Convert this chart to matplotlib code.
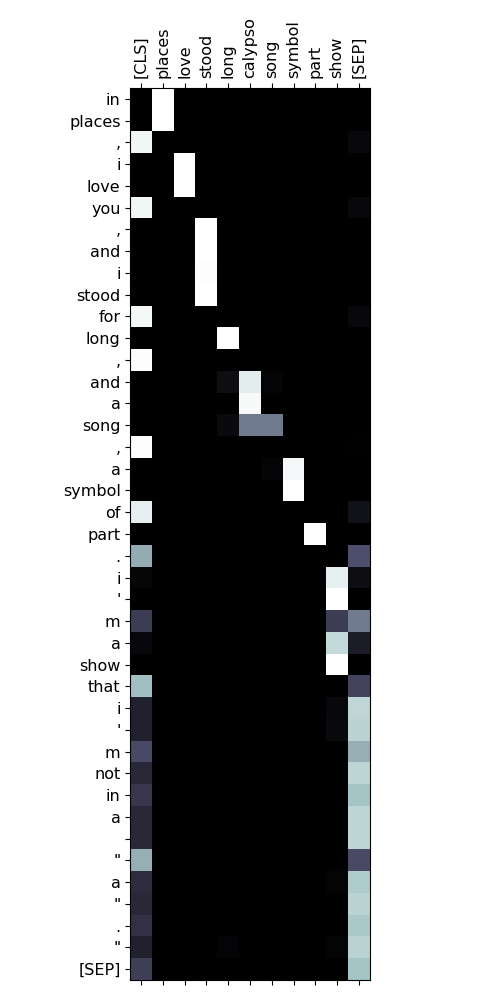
import numpy as np
import matplotlib
matplotlib.use("Agg")
import matplotlib.pyplot as plt

# columns (key tokens) and rows (query tokens)
col_tokens = ["[CLS]", "places", "love", "stood", "long", "calypso",
              "song", "symbol", "part", "show", "[SEP]"]
row_tokens = ["in", "places", ",", "i", "love", "you", ",", "and", "i", "stood",
              "for", "long", ",", "and", "a", "song", ",", "a", "symbol", "of",
              "part", ".", "i", "'", "m", "a", "show", "that", "i", "'",
              "m", "not", "in", "a", "", '"', "a", '"', ".", '"', "[SEP]"]

# attention weights, one list per row
# order: [CLS] places love stood long calypso song symbol part show [SEP]
attn = [
    [0, 1, 0, 0, 0, 0, 0, 0, 0, 0, 0],
    [0, 1, 0, 0, 0, 0, 0, 0, 0, 0, 0],
    [0.96, 0, 0, 0, 0, 0, 0, 0, 0, 0, 0.04],
    [0, 0, 1, 0, 0, 0, 0, 0, 0, 0, 0],
    [0, 0, 1, 0, 0, 0, 0, 0, 0, 0, 0],
    [0.96, 0, 0, 0, 0, 0, 0, 0, 0, 0, 0.04],
    [0, 0, 0, 1, 0, 0, 0, 0, 0, 0, 0],
    [0, 0, 0, 1, 0, 0, 0, 0, 0, 0, 0],
    [0, 0, 0, 0.99, 0, 0, 0, 0, 0, 0, 0],
    [0, 0, 0, 1, 0, 0, 0, 0, 0, 0, 0],
    [0.97, 0, 0, 0, 0, 0, 0, 0, 0, 0, 0.04],
    [0, 0, 0, 0, 1, 0, 0, 0, 0, 0, 0],
    [0.99, 0, 0, 0, 0, 0, 0, 0, 0, 0, 0],
    [0, 0, 0, 0, 0.06, 0.92, 0.02, 0, 0, 0, 0],
    [0, 0, 0, 0, 0, 0.98, 0, 0, 0, 0, 0],
    [0, 0, 0, 0, 0.05, 0.5, 0.5, 0, 0, 0, 0],
    [0.99, 0, 0, 0, 0, 0, 0, 0, 0, 0, 0.01],
    [0, 0, 0, 0, 0, 0, 0.02, 0.97, 0, 0, 0],
    [0, 0, 0, 0, 0, 0, 0, 1, 0, 0, 0],
    [0.93, 0, 0, 0, 0, 0, 0, 0, 0, 0, 0.08],
    [0, 0, 0, 0, 0, 0, 0, 0, 1, 0, 0],
    [0.66, 0, 0, 0, 0, 0, 0, 0, 0, 0, 0.35],
    [0.03, 0, 0, 0, 0, 0, 0, 0, 0, 0.93, 0.06],
    [0, 0, 0, 0, 0, 0, 0, 0, 0, 1, 0],
    [0.27, 0, 0, 0, 0, 0, 0, 0, 0, 0.27, 0.5],
    [0.04, 0, 0, 0, 0, 0, 0, 0, 0, 0.83, 0.13],
    [0, 0, 0, 0, 0, 0, 0, 0, 0, 1, 0],
    [0.72, 0, 0, 0, 0, 0, 0, 0, 0, 0, 0.3],
    [0.15, 0, 0, 0, 0, 0, 0, 0, 0, 0.04, 0.82],
    [0.15, 0, 0, 0, 0, 0, 0, 0, 0, 0.05, 0.8],
    [0.33, 0, 0, 0, 0, 0, 0, 0, 0, 0, 0.67],
    [0.18, 0, 0, 0, 0, 0, 0, 0, 0, 0, 0.81],
    [0.25, 0, 0, 0, 0, 0, 0, 0, 0, 0, 0.74],
    [0.18, 0, 0, 0, 0, 0, 0, 0, 0, 0, 0.81],
    [0.18, 0, 0, 0, 0, 0, 0, 0, 0, 0, 0.81],
    [0.67, 0, 0, 0, 0, 0, 0, 0, 0, 0, 0.33],
    [0.2, 0, 0, 0, 0, 0, 0, 0, 0, 0.02, 0.77],
    [0.18, 0, 0, 0, 0, 0, 0, 0, 0, 0, 0.8],
    [0.22, 0, 0, 0, 0, 0, 0, 0, 0, 0, 0.76],
    [0.15, 0, 0, 0, 0.02, 0, 0, 0, 0, 0.02, 0.8],
    [0.28, 0, 0, 0, 0, 0, 0, 0, 0, 0, 0.74],
]


def main():
    fig = plt.figure(figsize=(5, 10), dpi=100)
    ax = fig.add_axes([0.26, 0.02, 0.48, 0.892])

    ax.matshow(np.array(attn), cmap="bone", vmin=0, vmax=1)

    ax.set_xticks(range(len(col_tokens)))
    ax.set_xticklabels(col_tokens, rotation=90, fontsize=11.5)
    ax.set_yticks(range(len(row_tokens)))
    ax.set_yticklabels(row_tokens, fontsize=11.5)

    fig.savefig("out.png", dpi=100)


if __name__ == "__main__":
    main()
